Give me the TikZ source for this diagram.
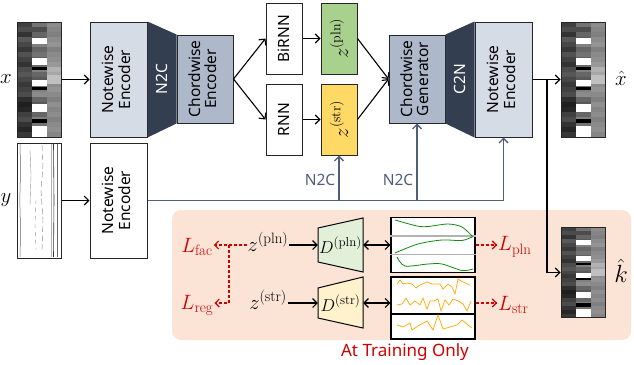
\documentclass[tikz,border=0pt]{standalone}
\usepackage{fontspec}
\setsansfont{Noto Sans}
\usetikzlibrary{arrows.meta}
\definecolor{lbox}{HTML}{D6DCE5}
\definecolor{cbox}{HTML}{ADB9CA}
\definecolor{dnavy}{HTML}{333F50}
\definecolor{slate}{HTML}{4F5F78}
\definecolor{zgreen}{HTML}{A9D18E}
\definecolor{zyellow}{HTML}{FFD966}
\definecolor{peach}{HTML}{FBE3D6}
\definecolor{lred}{HTML}{D00000}
\definecolor{dgreen}{HTML}{E2F0D9}
\definecolor{dyellow}{HTML}{FFF2CC}
\definecolor{pgreen}{HTML}{108A10}
\definecolor{porange}{HTML}{FFA800}
\newcommand\supt[2][13]{\mbox{\fontsize{#1}{#1}\selectfont\rmfamily #2}}
\newcommand\myroll[3]{%
 \begin{scope}[shift={(#1,#2)}, yscale=#3]
  \foreach \v [count=\i from 0] in {75,70,80,65,72,78,68,74,80,70,66,72,78,74,70,82,88,85,75,70,80,85,78}
   \fill[black!\v] ({0},{5*\i}) rectangle ({15},{5*\i+5});
  \foreach \v [count=\i from 0] in {55,70,60,65,50,60,55,62,58,50,60,65,55,50,45,60,65,55,60,50,55,60,55}
   \fill[black!\v] ({15},{5*\i}) rectangle ({30},{5*\i+5});
  \foreach \v [count=\i from 0] in {45,48,50,45,42,50,46,44,40,30,35,48,45,42,46,50,44,48,45,50,46,44,48}
   \fill[black!\v] ({30},{5*\i}) rectangle ({44},{5*\i+5});
  \fill[black!25] (30,53) rectangle (44,62);
  \fill[white] (15,16) rectangle (30,22);
  \fill[white] (15,36) rectangle (30,43);
  \fill[white] (15,58) rectangle (30,64);
  \fill[white] (15,82) rectangle (30,90);
  \fill[white] (15,104) rectangle (30,115);
  \fill[black] (15,45) rectangle (30,47.5);
  \fill[black] (15,65) rectangle (30,67.5);
  \fill[black] (15,97) rectangle (30,101);
 \end{scope}}
\begin{document}
\begin{tikzpicture}[x=1pt,y=-1pt,
 sf/.style={font=\sffamily\fontsize{15.5}{15}\selectfont},
 box/.style={draw=black!85, line width=1pt, inner sep=0pt, align=center, sf},
 imgframe/.style={draw=black!85, line width=1pt, inner sep=0pt, minimum width=44},
 arr/.style={-{Straight Barb[length=4.5pt,width=9pt]}, line width=1.1pt},
 darr/.style={{Straight Barb[length=4.5pt,width=9pt]}-{Straight Barb[length=4.5pt,width=9pt]}, line width=1.1pt},
 sarr/.style={-{Straight Barb[length=4.5pt,width=9pt]}, line width=1.4pt, draw=slate},
 rarr/.style={-{Straight Barb[length=4pt,width=8pt]}, line width=1.1pt, draw=lred, dash pattern=on 3pt off 2pt},
 mathlbl/.style={inner sep=1pt, font=\fontsize{22}{22}\selectfont},
 redlbl/.style={inner sep=1pt, text=lred, font=\fontsize{21}{21}\selectfont},
]
\useasboundingbox (0,0) rectangle (634,364);

% training area background
\fill[peach, rounded corners=9] (172,210) rectangle (631,340);

% input images
\myroll{17}{22}{1}
\node[imgframe, minimum height=115] (ximg) at (39,79.5) {};
\fill[white] (17,143) rectangle (61,258);
\draw[black!60, line width=0.5] (20,144) -- (20.6,170) -- (19.8,200) -- (20.6,230) -- (20,257);
\draw[black!50, line width=0.4, dash pattern=on 6pt off 3pt] (42,145) -- (43,165) -- (41,190) -- (43,220) -- (42,250);
\draw[black!40, line width=0.4] (30,150) -- (31,175) -- (30,205);
\draw[black!40, line width=0.4, dash pattern=on 4pt off 4pt] (36,200) -- (35,225) -- (36,250);
\draw[black!30, line width=1.6] (51.5,144) -- (51.5,257);
\draw[black!80, line width=0.6] (53.5,144) -- (54,200) -- (53.5,257);
\draw[black!60, line width=0.5] (57.5,144) -- (57.5,257);
\node[imgframe, minimum height=115] (yimg) at (39,200.5) {};
\node[mathlbl] (xl) at (6,79) {$x$};
\node[mathlbl] (yl) at (6,200) {$y$};

% encoder
\node[box, fill=lbox, minimum width=57, minimum height=115] (ne1) at (118.5,79.5)
 {\rotatebox{90}{\begin{tabular}{@{}c@{}}Notewise\\Encoder\end{tabular}}};
\node[box, fill=cbox, minimum width=56, minimum height=88] (ce) at (205,79)
 {\rotatebox{90}{\begin{tabular}{@{}c@{}}Chordwise\\Encoder\end{tabular}}};
\fill[dnavy] (ne1.north east) -- (ce.north west) -- (ce.south west) -- (ne1.south east) -- cycle;
\node[sf, text=white] (n2c) at (162,79) {\rotatebox{90}{N2C}};
\node[box, fill=white, minimum width=57, minimum height=115] (nye) at (118.5,200.5)
 {\rotatebox{90}{\begin{tabular}{@{}c@{}}Notewise\\Encoder\end{tabular}}};

\node[box, fill=white, minimum width=36, minimum height=71] (birnn) at (284,38.5) {\rotatebox{90}{BiRNN}};
\node[box, fill=white, minimum width=36, minimum height=71] (rnn) at (284,119.5) {\rotatebox{90}{RNN}};
\node[box, fill=zgreen, minimum width=36, minimum height=71, font=\fontsize{21}{21}\selectfont] (zp) at (339,38.5) {\rotatebox{90}{$z^{\supt[14]{(pln)}}$}};
\node[box, fill=zyellow, minimum width=36, minimum height=71, font=\fontsize{21}{21}\selectfont] (zs) at (339,119.5) {\rotatebox{90}{$z^{\supt[14]{(str)}}$}};

% decoder
\node[box, fill=cbox, minimum width=56, minimum height=88] (cg) at (417,79)
 {\rotatebox{90}{\begin{tabular}{@{}c@{}}Chordwise\\Generator\end{tabular}}};
\node[box, fill=lbox, minimum width=57, minimum height=115] (ne2) at (503.5,79.5)
 {\rotatebox{90}{\begin{tabular}{@{}c@{}}Notewise\\Encoder\end{tabular}}};
\fill[dnavy] (cg.north east) -- (ne2.north west) -- (ne2.south west) -- (cg.south east) -- cycle;
\node[sf, text=white] (c2n) at (460,79) {\rotatebox{90}{C2N}};

\myroll{561}{22}{1}
\node[imgframe, minimum height=115] (xhimg) at (583,79.5) {};
\node[mathlbl] (xhl) at (621,78) {$\hat{x}$};
\myroll{561}{227.5}{0.7826}
\node[imgframe, minimum height=90] (khimg) at (583,272.5) {};
\node[mathlbl, font=\fontsize{24}{24}\selectfont] (khl) at (621,271) {$\hat{k}$};

% connectors
\draw[arr] (ximg) -- (ne1);
\draw[arr] (yimg) -- (nye);
\draw[arr] (ce.east) -- (birnn.west);
\draw[arr] (ce.east) -- (rnn.west);
\draw[arr] (birnn) -- (zp);
\draw[arr] (rnn) -- (zs);
\draw[arr] (zp.east) -- (cg.west);
\draw[arr] (zs.east) -- (cg.west);
\draw[arr] (ne2) -- (xhimg);
\coordinate (br) at (547,79.5);
\draw[arr] (br) |- (khimg.west);

\draw[sarr] (nye.east) -| (ne2.south);
\draw[sarr] (zs.south |- nye.east) -- (zs.south);
\draw[sarr] (cg.south |- nye.east) -- (cg.south);
\node[sf, text=slate] (n2ca) at (320,180) {N2C};
\node[sf, text=slate] (n2cb) at (398,180) {N2C};

% training part
\node[mathlbl] (zpl) at (268,242) {$z^{\supt[15]{(pln)}}$};
\node[mathlbl] (zst) at (268,300) {$z^{\supt[15]{(str)}}$};
\node[redlbl] (Lfac) at (197,247) {$L_{\supt[15]{fac}}$};
\node[redlbl] (Lreg) at (197,305) {$L_{\supt[15]{reg}}$};
\coordinate (rb) at (229,245);
\coordinate (rl) at (229,303);
\draw[rarr] (zpl.west |- rb) -- (Lfac.east |- rb);
\draw[rarr] (rb) -- (rl) -- (Lreg.east |- rl);

\draw[line width=1pt, fill=dgreen] (318,228) -- (363,218) -- (363,272) -- (318,262) -- cycle;
\draw[line width=1pt, fill=dyellow] (318,288) -- (363,277) -- (363,328) -- (318,318) -- cycle;
\node[inner sep=0, minimum width=45, font=\fontsize{19}{19}\selectfont] (dp) at (340.5,245) {$D^{\supt[13]{(pln)}}$};
\node[inner sep=0, minimum width=45, font=\fontsize{19}{19}\selectfont] (ds) at (340.5,303) {$D^{\supt[13]{(str)}}$};
\draw[arr] (zpl.east |- dp) -- (dp);
\draw[arr] (zst.east |- ds) -- (ds);

% plots
\node[draw, line width=1.2pt, fill=white, inner sep=0, minimum width=84, minimum height=55] (ppl) at (433,245) {};
\draw[black!30, line width=2pt] (ppl.west |- 0,236) -- (ppl.east |- 0,236);
\draw[black!30, line width=1pt] (ppl.west |- 0,254) -- (ppl.east |- 0,254);
\draw[pgreen, line width=0.8pt] plot[smooth] coordinates {(395,220) (417,226) (428,226.5) (448,224) (462,227) (472,236)};
\draw[pgreen, line width=0.8pt] plot[smooth] coordinates {(395,253) (418,244) (442,240) (462,240.5) (473,236.5)};
\draw[pgreen, line width=0.8pt] plot[smooth] coordinates {(397,257) (405,266) (428,264) (442,264) (462,270.5) (473,269)};
\node[draw, line width=1.2pt, fill=white, inner sep=0, minimum width=84, minimum height=62] (pst) at (433,308) {};
\draw[line width=1.8pt] (pst.west |- 0,314) -- (pst.east |- 0,314);
\draw[porange, line width=0.7pt] (397,284) -- (400,280) -- (403,284) -- (407,283) -- (412,284) -- (416,288) -- (420,285) -- (427,282) -- (432,284) -- (440,284) -- (443,289) -- (448,284) -- (452,287) -- (455,294) -- (458,279) -- (463,282) -- (470,285);
\draw[porange, line width=0.7pt] (397,305) -- (402,304) -- (406,298) -- (410,305) -- (415,301) -- (420,305) -- (423,298) -- (427,309) -- (430,301) -- (434,301) -- (438,299) -- (441,311) -- (445,300) -- (449,305) -- (453,299) -- (458,301) -- (463,304) -- (467,311) -- (471,301);
\draw[porange, line width=0.7pt] (397,325) -- (403,327) -- (410,323) -- (412,330) -- (418,326) -- (427,321) -- (433,330) -- (438,315) -- (443,329) -- (450,327) -- (457,325) -- (462,320) -- (468,325) -- (472,328);

\draw[darr] (dp) -- (ppl);
\draw[darr] (ds) -- (ds -| pst.west);

\node[redlbl, anchor=west] (Lpln) at (497,247) {$L_{\supt[15]{pln}}$};
\node[redlbl, anchor=west] (Lstr) at (497,305) {$L_{\supt[15]{str}}$};
\coordinate (rp) at (497,245);
\coordinate (rs) at (497,303);
\draw[rarr] (ppl.east |- rp) -- (rp);
\draw[rarr] (pst.east |- rs) -- (rs);

\node[font=\sffamily\fontsize{17}{17}\selectfont, text=lred] (train) at (405,352) {At Training Only};
\end{tikzpicture}
\end{document}
